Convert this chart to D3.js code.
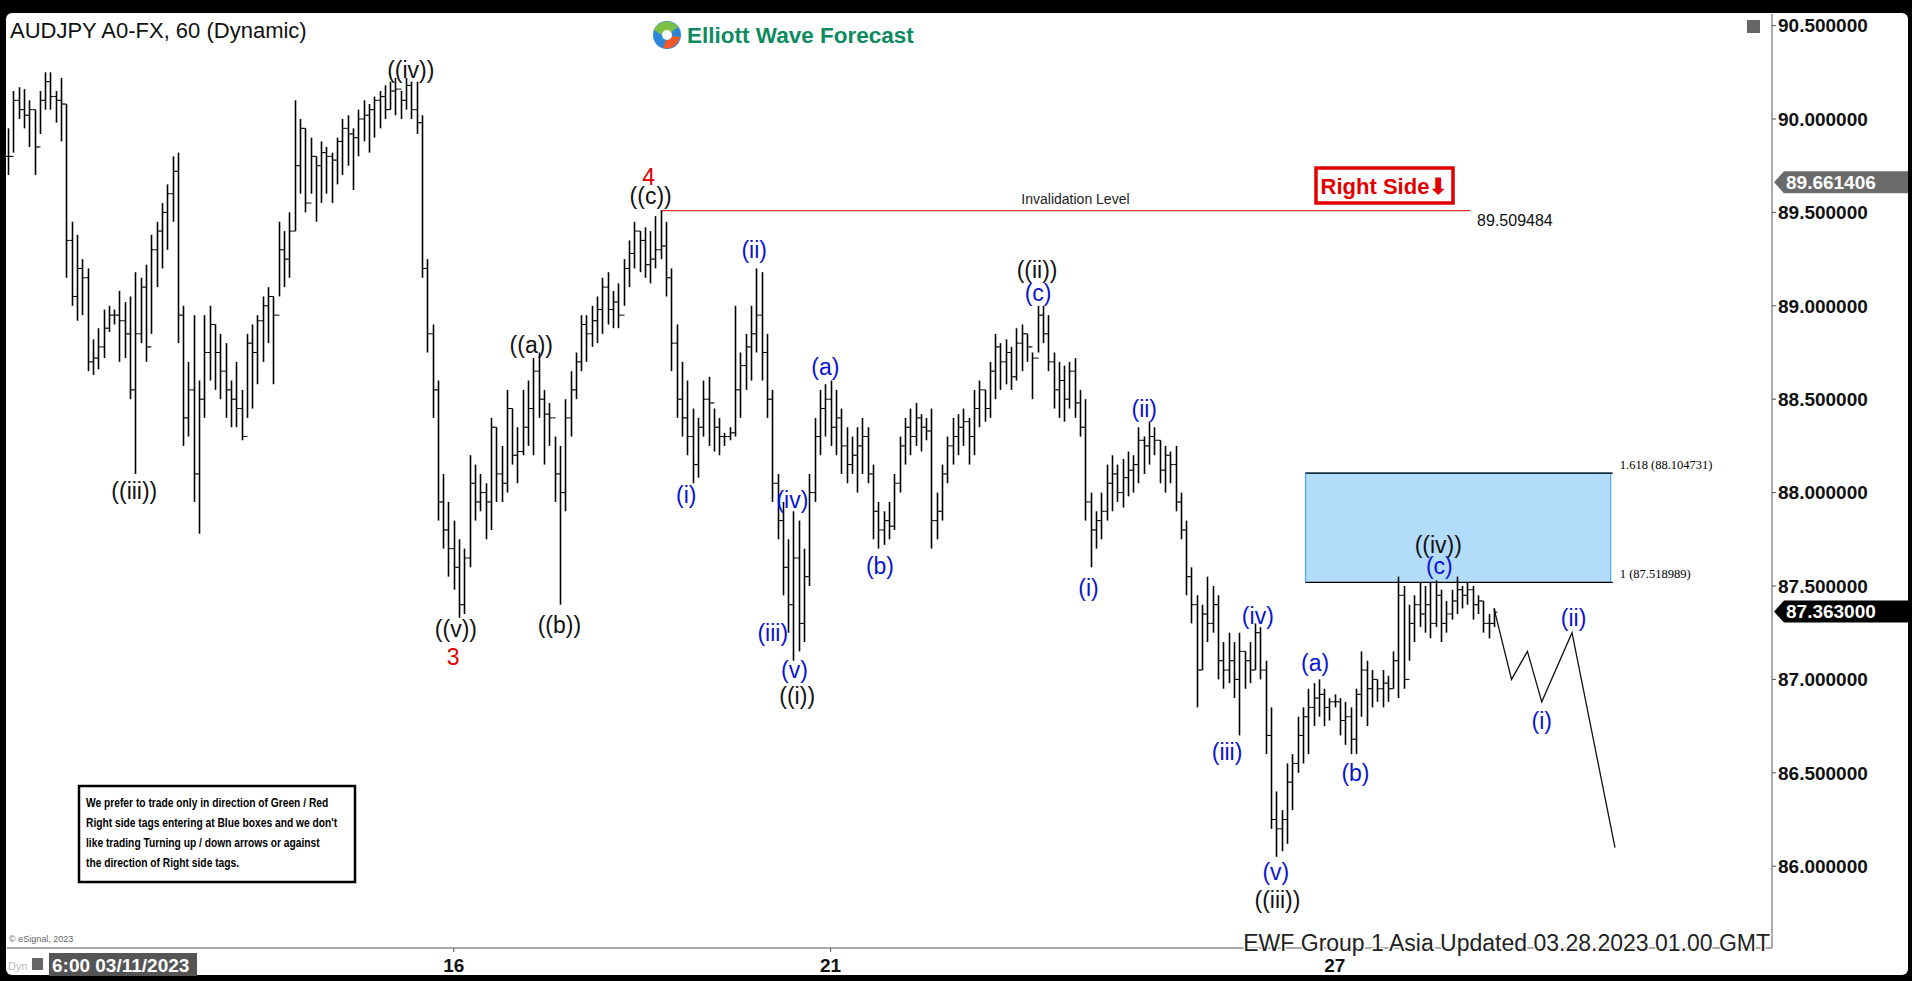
<!DOCTYPE html>
<html><head><meta charset="utf-8">
<script src="https://cdn.jsdelivr.net/npm/d3@7"></script>
<style>
body{margin:0;background:#000;overflow:hidden}
text{font-family:Arial,"Liberation Sans",sans-serif}
</style></head>
<body>
<svg id="chart" width="1912" height="981"></svg>
<script>
// hourly bars: [high, low, close]; open is the previous close
var bars = [
[89.95,89.70,89.80],[90.15,89.82,90.10],[90.17,90.00,90.05],[90.16,89.95,90.02],[90.10,89.85,90.05],
[90.05,89.70,89.85],[90.15,89.92,90.10],[90.25,90.05,90.20],[90.25,90.05,90.12],[90.15,89.98,90.10],
[90.22,89.88,90.08],[90.08,89.15,89.35],[89.45,89.00,89.05],[89.38,88.92,89.20],[89.25,88.95,89.15],
[89.20,88.65,88.70],[88.82,88.63,88.72],[88.88,88.66,88.78],[88.98,88.72,88.88],[89.00,88.86,88.95],
[88.98,88.90,88.95],[89.08,88.70,88.92],[89.02,88.72,88.85],[89.05,88.50,88.55],[89.18,88.10,88.85],
[89.15,88.80,89.10],[89.22,88.70,88.78],[89.38,88.85,89.30],[89.45,89.10,89.40],[89.55,89.20,89.50],
[89.65,89.30,89.60],[89.80,89.45,89.72],[89.82,88.80,88.95],[89.00,88.25,88.40],[88.70,88.30,88.55],
[88.95,87.95,88.10],[88.60,87.78,88.50],[88.95,88.40,88.75],[89.00,88.60,88.90],[88.90,88.55,88.75],
[88.85,88.50,88.65],[88.80,88.40,88.55],[88.60,88.35,88.50],[88.70,88.35,88.45],[88.55,88.28,88.30],
[88.85,88.40,88.80],[88.90,88.45,88.75],[88.95,88.58,88.92],[89.05,88.70,89.00],[89.10,88.80,89.05],
[89.05,88.58,88.95],[89.45,89.05,89.30],[89.40,89.10,89.25],[89.50,89.15,89.40],[90.10,89.40,89.75],
[90.00,89.60,89.95],[89.95,89.50,89.55],[89.90,89.60,89.80],[89.80,89.45,89.75],[89.88,89.55,89.82],
[89.85,89.60,89.80],[89.82,89.55,89.78],[89.90,89.65,89.88],[90.00,89.70,89.95],[90.02,89.75,89.92],
[89.95,89.62,89.90],[90.05,89.80,90.00],[90.10,89.88,90.02],[90.08,89.82,90.05],[90.12,89.90,90.10],
[90.15,89.95,90.12],[90.18,90.00,90.05],[90.20,90.05,90.15],[90.22,90.02,90.16],[90.15,90.00,90.10],
[90.22,90.05,90.18],[90.20,90.00,90.05],[90.20,89.92,89.98],[90.02,89.15,89.20],[89.25,88.75,88.85],
[88.90,88.40,88.55],[88.60,87.85,87.95],[88.10,87.70,87.80],[87.95,87.55,87.70],[87.85,87.48,87.60],
[87.75,87.33,87.40],[87.70,87.35,87.65],[88.20,87.60,88.05],[88.15,87.85,87.95],[88.10,87.90,88.00],
[88.05,87.75,87.95],[88.40,87.80,88.35],[88.35,87.95,88.10],[88.25,87.95,88.05],[88.55,88.00,88.45],
[88.45,88.15,88.20],[88.35,88.05,88.22],[88.55,88.20,88.35],[88.60,88.25,88.45],[88.72,88.20,88.65],
[88.75,88.40,88.50],[88.55,88.15,88.42],[88.48,88.25,88.40],[88.30,87.95,88.10],[88.25,87.40,88.00],
[88.50,87.90,88.40],[88.65,88.30,88.55],[88.75,88.50,88.70],[88.95,88.65,88.90],[88.95,88.70,88.85],
[89.00,88.78,88.92],[89.05,88.80,88.98],[89.15,88.85,89.10],[89.18,88.90,88.98],[89.08,88.88,89.02],
[89.12,88.88,88.95],[89.25,89.00,89.20],[89.35,89.10,89.28],[89.45,89.20,89.40],[89.40,89.18,89.35],
[89.42,89.15,89.22],[89.40,89.12,89.25],[89.48,89.20,89.30],[89.51,89.25,89.32],[89.45,89.05,89.15],
[89.20,88.65,88.80],[88.90,88.40,88.50],[88.70,88.30,88.40],[88.60,88.20,88.30],[88.45,88.05,88.15],
[88.40,88.08,88.35],[88.60,88.30,88.50],[88.62,88.25,88.48],[88.45,88.22,88.35],[88.40,88.20,88.30],
[88.32,88.25,88.30],[88.35,88.28,88.32],[89.00,88.30,88.55],[88.75,88.40,88.68],[88.85,88.55,88.78],
[89.00,88.60,88.85],[89.20,88.75,88.95],[89.18,88.60,88.75],[88.85,88.40,88.50],[88.55,87.95,88.05],
[88.10,87.75,87.85],[87.95,87.45,87.60],[87.75,87.25,87.40],[87.90,87.10,87.65],[87.85,87.15,87.30],
[87.70,87.20,87.55],[88.10,87.50,88.00],[88.40,87.95,88.30],[88.55,88.20,88.45],[88.58,88.30,88.50],
[88.60,88.25,88.35],[88.55,88.20,88.40],[88.45,88.10,88.25],[88.35,88.05,88.15],[88.30,88.10,88.20],
[88.35,88.00,88.25],[88.40,88.10,88.30],[88.35,88.05,88.10],[88.15,87.75,87.90],[87.95,87.70,87.80],
[87.90,87.72,87.85],[87.95,87.75,87.82],[88.10,87.80,88.05],[88.30,88.00,88.25],[88.40,88.15,88.35],
[88.45,88.20,88.30],[88.48,88.25,88.40],[88.42,88.22,88.35],[88.40,88.28,88.33],[88.45,87.70,87.85],
[88.00,87.75,87.90],[88.15,87.85,88.10],[88.30,88.05,88.25],[88.40,88.15,88.30],[88.42,88.20,88.35],
[88.45,88.25,88.38],[88.40,88.15,88.30],[88.55,88.20,88.45],[88.60,88.35,88.55],[88.55,88.38,88.45],
[88.70,88.40,88.65],[88.85,88.50,88.78],[88.80,88.55,88.70],[88.82,88.58,88.75],[88.78,88.55,88.62],
[88.88,88.60,88.80],[88.90,88.65,88.85],[88.85,88.70,88.78],[88.75,88.50,88.72],[89.00,88.75,88.95],
[89.00,88.80,88.85],[88.95,88.65,88.70],[88.75,88.45,88.55],[88.70,88.40,88.60],[88.68,88.38,88.50],
[88.70,88.45,88.65],[88.72,88.40,88.48],[88.55,88.30,88.35],[88.50,87.85,87.95],[88.00,87.60,87.80],
[87.90,87.70,87.85],[88.00,87.75,87.90],[88.15,87.85,88.05],[88.20,87.90,88.10],[88.15,87.95,88.00],
[88.18,87.92,88.08],[88.22,87.98,88.12],[88.20,88.00,88.15],[88.35,88.05,88.28],[88.30,88.10,88.25],
[88.38,88.15,88.30],[88.35,88.20,88.28],[88.28,88.05,88.12],[88.25,88.00,88.20],[88.22,88.05,88.15],
[88.25,87.90,87.95],[88.00,87.75,87.80],[87.85,87.45,87.55],[87.60,87.30,87.40],[87.45,86.85,87.05],
[87.40,87.05,87.35],[87.55,87.20,87.30],[87.50,87.25,87.40],[87.45,87.00,87.10],[87.20,86.95,87.05],
[87.25,86.98,87.10],[87.20,86.90,87.00],[87.25,86.70,87.15],[87.15,86.95,87.10],[87.20,86.98,87.05],
[87.30,87.05,87.25],[87.28,87.00,87.05],[87.10,86.60,86.70],[86.85,86.20,86.25],[86.40,86.05,86.20],
[86.30,86.08,86.25],[86.55,86.12,86.45],[86.60,86.30,86.55],[86.80,86.50,86.70],[86.85,86.55,86.80],
[86.95,86.60,86.85],[86.98,86.75,86.90],[87.00,86.80,86.92],[86.95,86.75,86.85],[86.90,86.78,86.88],
[86.92,86.85,86.88],[86.90,86.70,86.78],[86.88,86.65,86.80],[86.85,86.60,86.68],[86.95,86.60,86.92],
[87.15,86.80,87.05],[87.10,86.75,86.95],[87.05,86.85,87.00],[87.00,86.88,86.95],[87.05,86.85,86.98],
[87.02,86.88,86.95],[87.15,86.95,87.10],[87.55,86.90,87.45],[87.50,86.95,87.00],[87.40,87.10,87.30],
[87.45,87.20,87.40],[87.52,87.28,87.35],[87.50,87.25,87.40],[87.52,87.22,87.30],[87.53,87.28,87.45],
[87.48,87.20,87.30],[87.42,87.25,87.35],[87.48,87.32,87.42],[87.55,87.35,87.48],[87.50,87.38,87.45],
[87.52,87.40,87.48],[87.50,87.32,87.40],[87.45,87.35,87.42],[87.42,87.25,87.30],[87.35,87.22,87.30],
[87.38,87.28,87.36]
];
var priceTicks = [90.5, 90.0, 89.5, 89.0, 88.5, 88.0, 87.5, 87.0, 86.5, 86.0];
var dateTickIdx = [84, 155, 250];
var dateTickLabels = ["16", "21", "27"];
// projected path [bar index, price]
var projection = [[280, 87.38], [283.3, 87.0], [286.3, 87.15], [289, 86.88], [294.7, 87.25], [302.8, 86.1]];
var invalidation = {price: 89.509484, from: 123, to: 275.5};
var fibBox = {from: 244.5, to: 302, lo: 87.518989, hi: 88.104731};
var lastPrice = 87.363, markPrice = 89.661406;
// wave labels: [text, bar index, price, colour]
var labels = [
["((iv))",75.9,90.26,"k"],["((iii))",23.8,88.01,"k"],["((v))",84.4,87.27,"k"],["3",83.9,87.12,"r"],
["((a))",98.6,88.79,"k"],["((b))",103.9,87.29,"k"],["((c))",121.1,89.59,"k"],["4",120.7,89.69,"r"],
["(i)",127.8,87.99,"b"],["(ii)",140.6,89.30,"b"],["(iii)",144.1,87.25,"b"],["(iv)",147.8,87.96,"b"],
["(v)",148.2,87.05,"b"],["((i))",148.7,86.91,"k"],["(a)",154.0,88.67,"b"],["(b)",164.3,87.61,"b"],
["((ii))",193.9,89.19,"k"],["(c)",194.1,89.07,"b"],["(i)",203.6,87.49,"b"],["(ii)",214.1,88.45,"b"],
["(iii)",229.7,86.61,"b"],["(iv)",235.5,87.34,"b"],["(v)",238.9,85.97,"b"],["((iii))",239.2,85.82,"k"],
["(a)",246.3,87.09,"b"],["(b)",253.9,86.50,"b"],["((iv))",269.5,87.72,"k"],["(c)",269.7,87.61,"b"],
["(ii)",295.0,87.33,"b"],["(i)",289.0,86.78,"b"]
];
var colours = {k: "#111", r: "#e00000", b: "#0a14d0"};
var noteLines = ["We prefer to trade only in direction of Green / Red", "Right side tags entering at Blue boxes and we don't",
 "like trading Turning up / down arrows or against", "the direction of Right side tags."];

var svg = d3.select("#chart");
var plotL = 7, plotR = 1772, plotT = 14, plotB = 948;
var x = d3.scaleLinear().domain([0, bars.length - 1]).range([8, 1494]);
var y = d3.scaleLinear().domain([90.5, 86.0]).range([25.6, 866.2]);

// white panels
svg.append("rect").attr("x", 6).attr("y", 13).attr("width", 1902).attr("height", 962).attr("rx", 6).attr("fill", "#fff");
svg.append("line").attr("x1", plotR).attr("x2", plotR).attr("y1", plotT).attr("y2", plotB).attr("stroke", "#555");
svg.append("line").attr("x1", plotL).attr("x2", plotR).attr("y1", plotB).attr("y2", plotB).attr("stroke", "#555");

// fib box
svg.append("rect").attr("x", x(fibBox.from)).attr("y", y(fibBox.hi))
    .attr("width", x(fibBox.to) - x(fibBox.from)).attr("height", y(fibBox.lo) - y(fibBox.hi))
    .attr("fill", "#b3dcfb").attr("stroke", "#3aa0f0").attr("stroke-width", 1);
[fibBox.hi, fibBox.lo].forEach(function(p, i) {
    svg.append("line").attr("x1", x(fibBox.from)).attr("x2", x(fibBox.to) + 2)
        .attr("y1", y(p)).attr("y2", y(p)).attr("stroke", "#000").attr("stroke-width", 1.2);
    svg.append("text").attr("x", x(fibBox.to) + 9).attr("y", y(p) - 4)
        .style("font-family", "'Liberation Serif','DejaVu Serif',serif").style("font-size", "12.5px")
        .text(i == 0 ? "1.618 (" + p.toFixed(6) + ")" : "1 (" + p.toFixed(6) + ")");
});

// invalidation
svg.append("line").attr("x1", x(invalidation.from)).attr("x2", x(invalidation.to))
    .attr("y1", y(invalidation.price)).attr("y2", y(invalidation.price)).attr("stroke", "#e53030").attr("stroke-width", 1.3);
svg.append("text").attr("x", (x(invalidation.from) + x(invalidation.to)) / 2 + 10).attr("y", y(invalidation.price) - 7)
    .attr("text-anchor", "middle").style("font-size", "14px").attr("fill", "#222").text("Invalidation Level");
svg.append("text").attr("x", x(invalidation.to) + 7).attr("y", y(invalidation.price) + 15)
    .style("font-size", "16px").attr("fill", "#111").text(invalidation.price.toFixed(6));

// bars
var g = svg.append("g").attr("stroke", "#000").attr("stroke-width", 1.6);
bars.forEach(function(b, i) {
    var cx = Math.round(x(i)) + 0.5;
    var open = i > 0 ? bars[i - 1][2] : b[2];
    g.append("line").attr("x1", cx).attr("x2", cx).attr("y1", y(b[0])).attr("y2", y(b[1]));
    g.append("line").attr("x1", cx - 3).attr("x2", cx).attr("y1", y(open)).attr("y2", y(open)).attr("stroke-width", 1);
    g.append("line").attr("x1", cx).attr("x2", cx + 3).attr("y1", y(b[2])).attr("y2", y(b[2])).attr("stroke-width", 1);
});

// projection
svg.append("path").attr("d", d3.line().x(function(d) { return x(d[0]); }).y(function(d) { return y(d[1]); })(projection))
    .attr("fill", "none").attr("stroke", "#111").attr("stroke-width", 1.3);

// wave labels
svg.selectAll("text.wave").data(labels).enter().append("text")
    .attr("class", "wave")
    .attr("x", function(d) { return x(d[1]); })
    .attr("y", function(d) { return y(d[2]); })
    .attr("dy", ".35em").attr("text-anchor", "middle")
    .style("font-size", "23px")
    .attr("fill", function(d) { return colours[d[3]]; })
    .text(function(d) { return d[0]; });

// price axis
priceTicks.forEach(function(p) {
    svg.append("line").attr("x1", plotR).attr("x2", plotR + 4).attr("y1", y(p)).attr("y2", y(p)).attr("stroke", "#555");
    svg.append("text").attr("x", plotR + 6).attr("y", y(p)).attr("dy", ".36em")
        .style("font-size", "19px").style("font-weight", "bold").attr("fill", "#111").text(p.toFixed(6));
});
function priceTag(p, fill) {
    var yy = y(p);
    svg.append("path").attr("d", "M" + (plotR + 2) + "," + yy + " L" + (plotR + 12) + "," + (yy - 11) + " L1908," + (yy - 11) + " L1908," + (yy + 11) + " L" + (plotR + 12) + "," + (yy + 11) + "Z")
        .attr("fill", fill);
    svg.append("text").attr("x", plotR + 14).attr("y", yy).attr("dy", ".36em")
        .style("font-size", "19px").style("font-weight", "bold").attr("fill", "#fff").text(p.toFixed(6));
}
priceTag(markPrice, "#6b6b6b");
priceTag(lastPrice, "#000");

// date axis
dateTickIdx.forEach(function(t, i) {
    svg.append("line").attr("x1", x(t)).attr("x2", x(t)).attr("y1", plotB).attr("y2", plotB + 4).attr("stroke", "#555");
    svg.append("text").attr("x", x(t)).attr("y", plotB + 24).attr("text-anchor", "middle")
        .style("font-size", "19px").style("font-weight", "bold").attr("fill", "#111").text(dateTickLabels[i]);
});
svg.append("rect").attr("x", 49).attr("y", 953).attr("width", 148).attr("height", 23).attr("fill", "#555");
svg.append("text").attr("x", 52).attr("y", 972).style("font-size", "19px").style("font-weight", "bold").attr("fill", "#fff").text("6:00 03/11/2023");
svg.append("text").attr("x", 8).attr("y", 970).style("font-size", "11px").attr("fill", "#bbb").text("Dyn");
svg.append("rect").attr("x", 32).attr("y", 958).attr("width", 11).attr("height", 12).attr("fill", "#666");
svg.append("text").attr("x", 9).attr("y", 942).style("font-size", "9px").attr("fill", "#666").text("© eSignal, 2023");

// footer
svg.append("text").attr("x", 1770).attr("y", 951).attr("text-anchor", "end")
    .style("font-size", "23px").attr("fill", "#222").attr("stroke", "#fff").attr("stroke-width", 3).attr("paint-order", "stroke")
    .text("EWF Group 1 Asia  Updated 03.28.2023 01.00 GMT");

// title and logo
svg.append("text").attr("x", 10).attr("y", 38).style("font-size", "22px").attr("fill", "#111").text("AUDJPY A0-FX, 60 (Dynamic)");
var logo = svg.append("g").attr("transform", "translate(667,35)");
logo.append("circle").attr("r", 14).attr("fill", "#2e86d8");
logo.append("path").attr("d", "M-13,-5 A14,14 0 0 1 11,-8 L3,-2 A6,6 0 0 0 -5,0Z").attr("fill", "#7bc043");
logo.append("path").attr("d", "M13,2 A14,14 0 0 1 -4,13 L-1,5 A6,6 0 0 0 5,1Z").attr("fill", "#f05a28");
logo.append("circle").attr("r", 5).attr("fill", "#fff");
svg.append("text").attr("x", 687).attr("y", 43).style("font-size", "22.5px").style("font-weight", "bold").attr("fill", "#0e8a5f").text("Elliott Wave Forecast");
svg.append("rect").attr("x", 1747).attr("y", 20).attr("width", 13).attr("height", 13).attr("fill", "#666");

// right side tag
svg.append("rect").attr("x", 1316).attr("y", 168).attr("width", 137).attr("height", 35).attr("fill", "#fff").attr("stroke", "#e00000").attr("stroke-width", 3.5);
svg.append("text").attr("x", 1384).attr("y", 186).attr("dy", ".36em").attr("text-anchor", "middle")
    .style("font-size", "22px").style("font-weight", "bold").attr("fill", "#e00000").text("Right Side\u2B07");

// note box
svg.append("rect").attr("x", 79).attr("y", 786).attr("width", 276).attr("height", 96).attr("fill", "#fff").attr("stroke", "#000").attr("stroke-width", 2.5);
noteLines.forEach(function(t, i) {
    svg.append("text").attr("transform", "translate(86," + (807 + i * 20) + ") scale(0.82,1)")
        .style("font-size", "12.5px").style("font-weight", "bold").attr("fill", "#000").text(t);
});
</script>
</body></html>
